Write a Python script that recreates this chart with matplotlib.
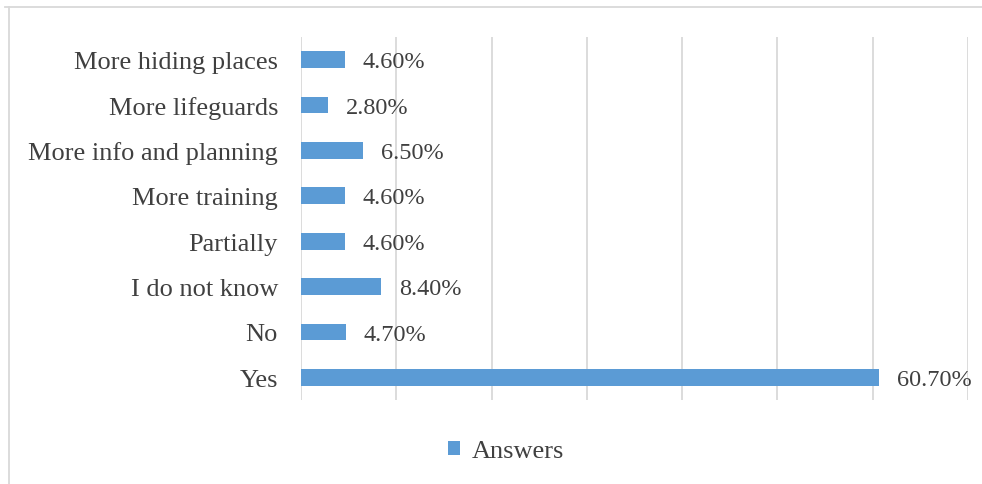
import matplotlib.pyplot as plt
from matplotlib.lines import Line2D

categories = ['Yes', 'No', 'I do not know', 'Partially', 'More training',
              'More info and planning', 'More lifeguards', 'More hiding places']
answers = [60.7, 4.7, 8.4, 4.6, 4.6, 6.5, 2.8, 4.6]

plt.rcParams['font.family'] = 'Liberation Serif'
text_color = '#404040'
bar_color = '#5B9BD5'

fig = plt.figure(figsize=(9.82, 4.85), dpi=100)
ax = fig.add_axes([0.3065, 0.1732, 0.6792, 0.7484])

y = range(len(categories))
bars = ax.barh(y, answers, height=0.37, color=bar_color, label='Answers', zorder=3)
for b, v in zip(bars, answers):
    ax.annotate(f'{v:.2f}%', (b.get_width(), b.get_y() + b.get_height() / 2),
                xytext=(13, -1.5), textcoords='offset points',
                va='center', ha='left', fontsize=17.5, color=text_color)

ax.set_xlim(0, 70)
ax.set_ylim(-0.5, len(categories) - 0.5)
ax.set_xticks(range(0, 71, 10))
ax.set_xticklabels([])
ax.tick_params(axis='x', length=0)
ax.set_yticks(list(y))
ax.set_yticklabels(categories, fontsize=19, color=text_color)
ax.tick_params(axis='y', length=0, pad=16.5)
ax.grid(axis='x', color='#D9D9D9', linewidth=1.3, zorder=0)
for s in ax.spines.values():
    s.set_visible(False)

leg = fig.legend(loc='center', bbox_to_anchor=(506 / 982, 1 - 452 / 485), frameon=False,
                 fontsize=19, handlelength=0.45, handleheight=0.45, handletextpad=0.45)
for t in leg.get_texts():
    t.set_color(text_color)

# outer chart border (top and left edges)
fig.add_artist(Line2D([5 / 982, 1], [1 - 8 / 485] * 2, transform=fig.transFigure,
                      color='#D9D9D9', linewidth=1.3))
fig.add_artist(Line2D([8.5 / 982] * 2, [0, 1 - 8 / 485], transform=fig.transFigure,
                      color='#D9D9D9', linewidth=1.3))

fig.savefig('out.png', dpi=100)
